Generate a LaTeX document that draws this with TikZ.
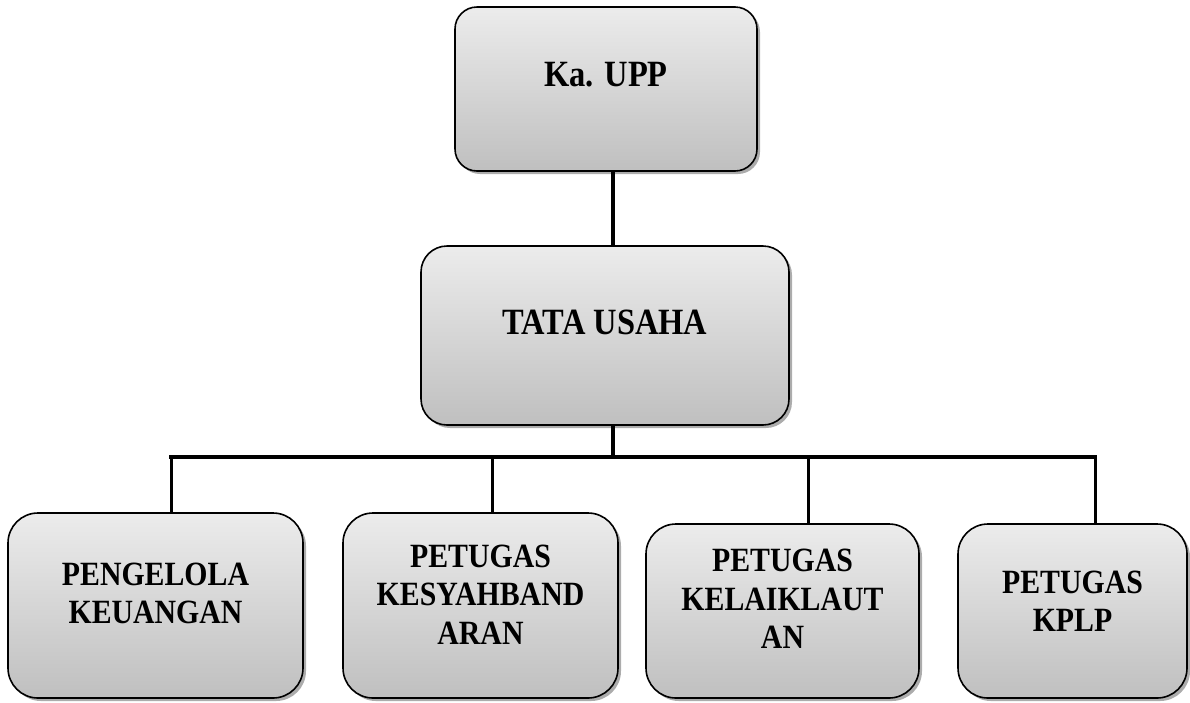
\documentclass[tikz,border=0pt]{standalone}
\usepackage{fontspec}
\usepackage{graphicx}
\setmainfont{Liberation Serif}
\newcommand{\vstr}[1]{\scalebox{1}[1.14]{#1}}
\begin{document}
\begin{tikzpicture}[x=1pt,y=-1pt,
  orgbox/.style={draw=black, line width=1.6pt, rounded corners=#1,
    top color=gray!15, bottom color=gray!50, inner sep=0pt},
  orgbox/.default=26pt,
  toptext/.style={font=\bfseries\fontsize{32.5}{38}\selectfont, align=center},
  bottext/.style={font=\bfseries\fontsize{29.8}{38.5}\selectfont, align=center},
  conn/.style={line width=4pt, line cap=rect}
]
\useasboundingbox (0,0) rectangle (1190,702);
% shadows
\foreach \cx/\cy/\w/\h/\r in {606/89/302/164/22, 605/335.5/368/179/26,
  155.5/605.5/295/185/30, 480.5/605.5/275/185/30, 782.5/611/273/174/30, 1072.5/611/229/174/30}{
  \fill[gray!65, rounded corners=\r pt] (\cx-\w/2+3,\cy-\h/2+3) rectangle (\cx+\w/2+3,\cy+\h/2+3);
}
% boxes
\node[orgbox=22pt, minimum width=302pt, minimum height=164pt] (ka) at (606,89) {};
\node[orgbox=26pt, minimum width=368pt, minimum height=179pt] (tu) at (605,335.5) {};
\node[orgbox=30pt, minimum width=295pt, minimum height=185pt] (b1) at (155.5,605.5) {};
\node[orgbox=30pt, minimum width=275pt, minimum height=185pt] (b2) at (480.5,605.5) {};
\node[orgbox=30pt, minimum width=273pt, minimum height=174pt] (b3) at (782.5,611) {};
\node[orgbox=30pt, minimum width=229pt, minimum height=174pt] (b4) at (1072.5,611) {};
% texts
\node[toptext, anchor=center] (kat) at ([yshift=14pt]ka.center) {\vstr{Ka. UPP}};
\node[toptext, anchor=center] (tut) at ([yshift=13.5pt]tu.center) {\vstr{TATA USAHA}};
\node[bottext, anchor=center] (b1t) at ([yshift=12pt]b1.center) {\vstr{PENGELOLA}\\\vstr{KEUANGAN}};
\node[bottext, anchor=center] (b2t) at ([yshift=11pt]b2.center) {\vstr{PETUGAS}\\\vstr{KESYAHBAND}\\\vstr{ARAN}};
\node[bottext, anchor=center] (b3t) at ([yshift=12pt]b3.center) {\vstr{PETUGAS}\\\vstr{KELAIKLAUT}\\\vstr{AN}};
\node[bottext, anchor=center] (b4t) at ([yshift=10pt]b4.center) {\vstr{PETUGAS}\\\vstr{KPLP}};
% connectors
\coordinate (bus) at (613,457);
\coordinate (busL) at (171,457);
\coordinate (busR) at (1095,457);
\coordinate (bus2) at (492,457);
\coordinate (bus3) at (808,457);
\draw[line width=4pt] (ka.south -| bus) -- (tu.north -| bus);
\draw[line width=4pt] (tu.south -| bus) -- (bus);
\draw[conn] (busL) -- (busR);
\draw[line width=3pt] (busL) -- (busL |- b1.north);
\draw[line width=3pt] (bus2) -- (bus2 |- b2.north);
\draw[line width=3pt] (bus3) -- (bus3 |- b3.north);
\draw[line width=3pt] (busR) -- (busR |- b4.north);
\end{tikzpicture}
\end{document}
